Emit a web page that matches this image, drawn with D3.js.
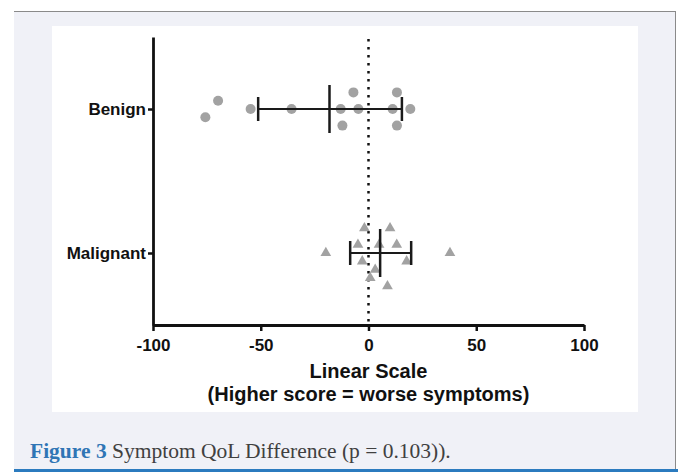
<!DOCTYPE html>
<html>
<head>
<meta charset="utf-8">
<script src="https://cdn.jsdelivr.net/npm/d3@7"></script>
<style>
  html, body { margin: 0; padding: 0; background: #ffffff; }
  svg { display: block; }
</style>
</head>
<body>
<script>
'use strict';

//chart data
var groups = ['Benign', 'Malignant'];
var xTicks = [-100, -50, 0, 50, 100];

//score differences, one per patient
var benignValues = [-75.7, -69.8, -54.7, -35.7, -12.9, -7.0, -4.7, -12.1, 11.2, 13.2, 13.2, 19.4];
//stacking slot of each point (how the plot spread overlapping points)
var benignSlots = [1, -1, 0, 0, 0, -2, 0, 2, 0, -2, 2, 0];

var malignantValues = [-19.8, -4.9, -1.9, -2.9, 4.9, 10.0, 13.1, 17.7, 3.1, 0.8, 8.8, 37.8];
var malignantSlots = [0, -1, -3, 1, -1, -3, -1, 1, 2, 3, 4, 0];

//mean and spread bars
var means = [-18.1, 5.4];
var lows = [-51.2, -8.5];
var highs = [15.5, 19.8];

var xTitle = 'Linear Scale';
var xSubtitle = '(Higher score = worse symptoms)';
var captionLabel = 'Figure 3';
var captionText = ' Symptom QoL Difference (p = 0.103)).';

var width = 678;
var height = 472;
var sans = 'Liberation Sans, Arial, sans-serif';

var svg = d3.select('body').append('svg')
  .attr('width', width)
  .attr('height', height);

//page frame round the figure
svg.append('rect')
  .attr('x', 14).attr('y', 11)
  .attr('width', 662).attr('height', 460)
  .attr('fill', '#f0f1f7');
svg.append('line')
  .attr('x1', 14).attr('x2', 676).attr('y1', 11.5).attr('y2', 11.5)
  .attr('stroke', '#8a8a8a').attr('stroke-width', 1);
svg.append('line')
  .attr('x1', 675.5).attr('x2', 675.5).attr('y1', 11).attr('y2', 470)
  .attr('stroke', '#8a8a8a').attr('stroke-width', 1);
svg.append('line')
  .attr('x1', 14).attr('x2', 678).attr('y1', 470.5).attr('y2', 470.5)
  .attr('stroke', '#2b7bbf').attr('stroke-width', 3);

//white image panel
svg.append('rect')
  .attr('x', 52).attr('y', 26)
  .attr('width', 586).attr('height', 386)
  .attr('fill', '#ffffff');

var plot = { left: 153, right: 584, top: 37, bottom: 325 };

var x = d3.scaleLinear()
  .domain([-100, 100])
  .range([plot.left, plot.right]);

var y = d3.scalePoint()
  .domain(groups)
  .range([plot.top, plot.bottom])
  .padding(0.5);

//one slot step in pixels for the spread points
var slot = d3.scaleLinear().domain([0, 1]).range([0, 8.3]);

var g = svg.append('g');

//zero reference line
g.append('line')
  .attr('x1', x(0)).attr('x2', x(0))
  .attr('y1', plot.top + 2).attr('y2', plot.bottom)
  .attr('stroke', '#111')
  .attr('stroke-width', 2.5)
  .attr('stroke-dasharray', '2.5,5.5');

//x axis
var xAxis = g.append('g')
  .attr('transform', 'translate(0,' + plot.bottom + ')')
  .call(d3.axisBottom(x).tickValues(xTicks).tickSize(6).tickSizeOuter(0).tickFormat(d3.format('d')));
xAxis.select('.domain').attr('stroke', '#111').attr('stroke-width', 2.8);
xAxis.selectAll('.tick line').attr('stroke', '#111').attr('stroke-width', 2.5);
xAxis.selectAll('.tick text')
  .attr('dy', '0.71em')
  .attr('y', 14)
  .attr('fill', '#111')
  .style('font-family', sans)
  .style('font-size', '17px')
  .style('font-weight', 'bold')
  .text(function(d) { return d < 0 ? '-' + Math.abs(d) : d; });

//y axis
var yAxis = g.append('g')
  .attr('transform', 'translate(' + plot.left + ',0)')
  .call(d3.axisLeft(y).tickSize(5).tickSizeOuter(0).tickPadding(2));
yAxis.select('.domain').attr('stroke', '#111').attr('stroke-width', 2.8);
yAxis.selectAll('.tick line').attr('stroke', '#111').attr('stroke-width', 2.5);
yAxis.selectAll('.tick text')
  .attr('fill', '#111')
  .style('font-family', sans)
  .style('font-size', '17px')
  .style('font-weight', 'bold');

//axis titles
svg.append('text')
  .attr('x', x(0)).attr('y', 378)
  .attr('text-anchor', 'middle')
  .style('font-family', sans)
  .style('font-size', '20px')
  .style('font-weight', 'bold')
  .attr('fill', '#111')
  .text(xTitle);
svg.append('text')
  .attr('x', x(0)).attr('y', 401)
  .attr('text-anchor', 'middle')
  .style('font-family', sans)
  .style('font-size', '20px')
  .style('font-weight', 'bold')
  .attr('fill', '#111')
  .text(xSubtitle);

//benign points (circles)
var benign = benignValues.map(function(v, i) { return { v: v, s: benignSlots[i] }; });
g.selectAll('circle.benign')
  .data(benign)
  .enter().append('circle')
  .attr('class', 'benign')
  .attr('cx', function(d) { return x(d.v); })
  .attr('cy', function(d) { return y('Benign') + slot(d.s); })
  .attr('r', 5)
  .attr('fill', '#a2a2a2');

//malignant points (triangles)
var malignant = malignantValues.map(function(v, i) { return { v: v, s: malignantSlots[i] }; });
var triangle = d3.symbol().type(d3.symbolTriangle).size(50);
g.selectAll('path.malignant')
  .data(malignant)
  .enter().append('path')
  .attr('class', 'malignant')
  .attr('d', triangle)
  .attr('transform', function(d) {
    return 'translate(' + x(d.v) + ',' + (y('Malignant') + slot(d.s)) + ')';
  })
  .attr('fill', '#a2a2a2');

//mean with spread bars
var bars = groups.map(function(name, i) {
  return { name: name, mean: means[i], lo: lows[i], hi: highs[i] };
});
var bar = g.selectAll('g.bar')
  .data(bars)
  .enter().append('g')
  .attr('class', 'bar')
  .attr('stroke', '#1a1a1a');

bar.append('line')
  .attr('x1', function(d) { return x(d.lo); })
  .attr('x2', function(d) { return x(d.hi); })
  .attr('y1', function(d) { return y(d.name); })
  .attr('y2', function(d) { return y(d.name); })
  .attr('stroke-width', 2);
bar.append('line')
  .attr('x1', function(d) { return x(d.mean); })
  .attr('x2', function(d) { return x(d.mean); })
  .attr('y1', function(d) { return y(d.name) - 24; })
  .attr('y2', function(d) { return y(d.name) + 24; })
  .attr('stroke-width', 2.5);
bar.append('line')
  .attr('x1', function(d) { return x(d.lo); })
  .attr('x2', function(d) { return x(d.lo); })
  .attr('y1', function(d) { return y(d.name) - 12; })
  .attr('y2', function(d) { return y(d.name) + 12; })
  .attr('stroke-width', 2.5);
bar.append('line')
  .attr('x1', function(d) { return x(d.hi); })
  .attr('x2', function(d) { return x(d.hi); })
  .attr('y1', function(d) { return y(d.name) - 12; })
  .attr('y2', function(d) { return y(d.name) + 12; })
  .attr('stroke-width', 2.5);

//figure caption
var caption = svg.append('text')
  .attr('x', 30).attr('y', 458)
  .style('font-family', 'Liberation Serif, serif')
  .style('font-size', '21.5px');
caption.append('tspan')
  .attr('fill', '#2f75b5')
  .style('font-weight', 'bold')
  .text(captionLabel);
caption.append('tspan')
  .attr('fill', '#404040')
  .text(captionText);
</script>
</body>
</html>
